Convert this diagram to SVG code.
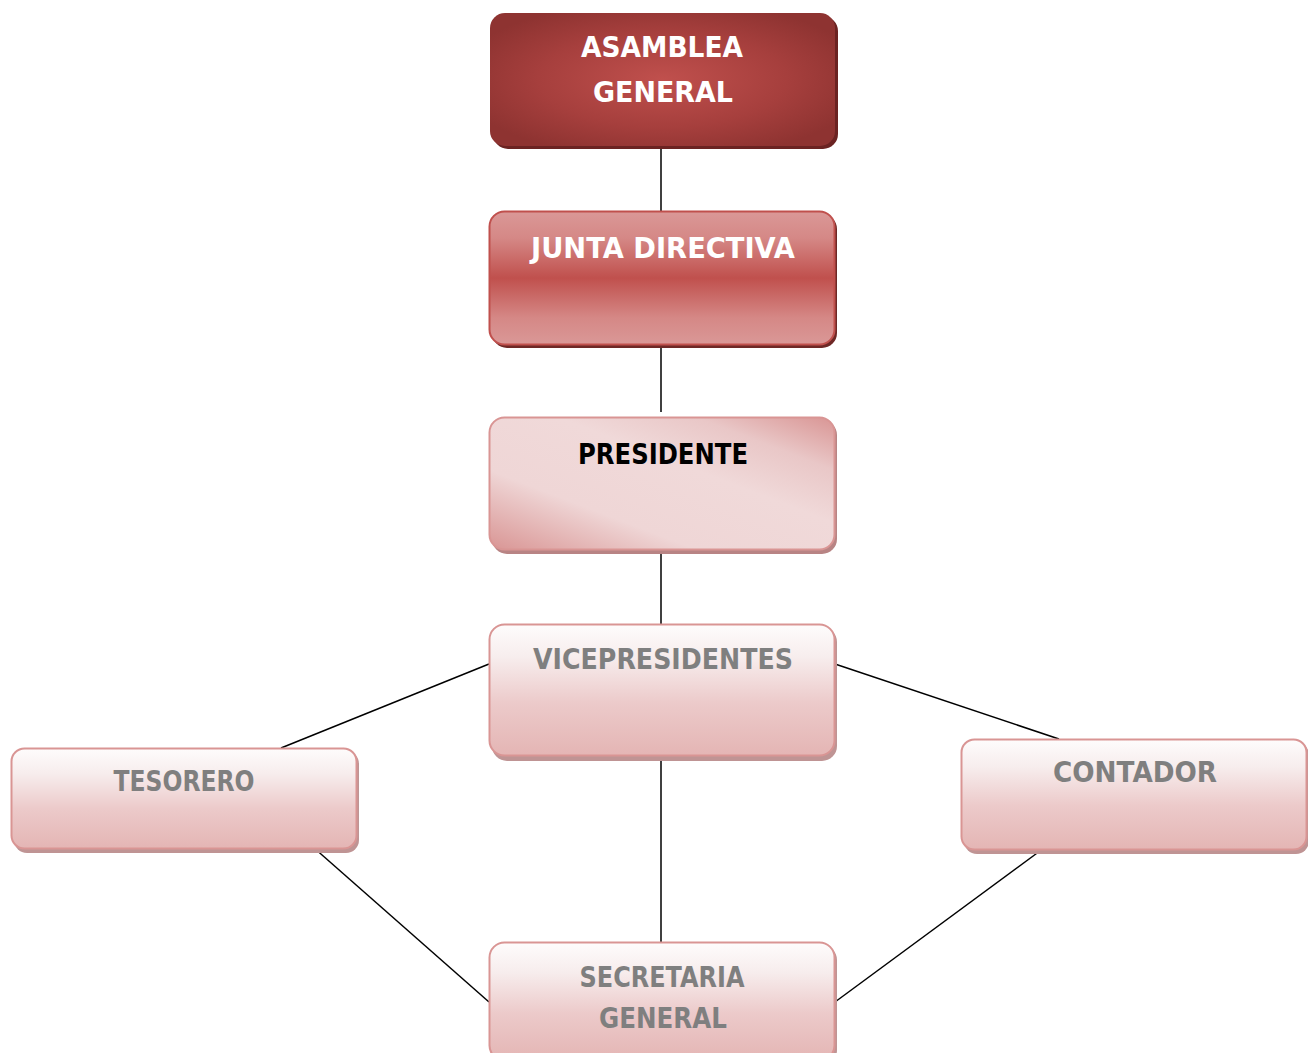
<svg xmlns="http://www.w3.org/2000/svg" width="1308" height="1053" viewBox="0 0 1308 1053">
<defs>
<radialGradient id="gA" cx="0.5" cy="0.5" r="0.6">
<stop offset="0" stop-color="#c0504d"/>
<stop offset="0.6" stop-color="#a63f3d"/>
<stop offset="1" stop-color="#8e3331"/>
</radialGradient>
<linearGradient id="gJ" x1="0" y1="0" x2="0" y2="1">
<stop offset="0" stop-color="#da9897"/>
<stop offset="0.2" stop-color="#d58886"/>
<stop offset="0.5" stop-color="#c0504d"/>
<stop offset="0.8" stop-color="#d58886"/>
<stop offset="1" stop-color="#da9897"/>
</linearGradient>
<linearGradient id="gP" x1="0" y1="1" x2="1" y2="0">
<stop offset="0" stop-color="#d99594"/>
<stop offset="0.3" stop-color="#efd6d6"/>
<stop offset="0.6" stop-color="#f0d9d9"/>
<stop offset="0.8" stop-color="#e9c7c7"/>
<stop offset="1" stop-color="#d99594"/>
</linearGradient>
<linearGradient id="gV" x1="0" y1="0" x2="0" y2="1">
<stop offset="0" stop-color="#fefcfc"/>
<stop offset="0.25" stop-color="#f7eded"/>
<stop offset="0.6" stop-color="#eccaca"/>
<stop offset="1" stop-color="#e4b5b4"/>
</linearGradient>
<style>
.t{font-family:"DejaVu Sans","Liberation Sans",sans-serif;font-weight:bold;font-size:28px;text-anchor:middle}
.w{fill:#ffffff}
.k{fill:#000000}
.g{fill:#7f7f7f}
.sh1{fill:#6b2322}
.sh2{fill:#6e2826}
.sh3{fill:#b88484}
.soft{fill:#bf9494}
.conn line{stroke:#000;stroke-width:1.5}
</style>
</defs>
<g class="conn" id="connectors">
<line x1="661" y1="147" x2="661" y2="212"/>
<line x1="661" y1="345" x2="661" y2="412"/>
<line x1="661" y1="550" x2="661" y2="625"/>
<line x1="661" y1="756" x2="661" y2="948"/>
<line x1="489" y1="664" x2="281" y2="748"/>
<line x1="835" y1="664" x2="1059" y2="739"/>
<line x1="313" y1="847" x2="489" y2="1002"/>
<line x1="1044" y1="848" x2="835" y2="1002"/>
</g>
<g id="asamblea">
<rect x="493" y="16" width="345" height="133" rx="15" class="sh1"/>
<rect x="490" y="13" width="345" height="133" rx="15" fill="url(#gA)"/>
<text class="t w" x="662" y="57" textLength="162" lengthAdjust="spacingAndGlyphs">ASAMBLEA</text>
<text class="t w" x="663" y="102" textLength="140" lengthAdjust="spacingAndGlyphs">GENERAL</text>
</g>
<g id="junta">
<rect x="492" y="214" width="345" height="134" rx="15" class="sh2"/>
<rect x="489.5" y="211.5" width="345" height="133" rx="15" fill="url(#gJ)" stroke="#c0504d" stroke-width="2"/>
<text class="t w" x="663" y="258" textLength="264" lengthAdjust="spacingAndGlyphs">JUNTA DIRECTIVA</text>
</g>
<g id="presidente">
<rect x="492" y="420" width="345" height="134" rx="15" class="sh3"/>
<rect x="489.5" y="417.5" width="345" height="132" rx="15" fill="url(#gP)" stroke="#d99594" stroke-width="2"/>
<text class="t k" x="663" y="464" textLength="170" lengthAdjust="spacingAndGlyphs">PRESIDENTE</text>
</g>
<g id="vicepresidentes">
<rect x="492" y="627" width="345" height="134" rx="15" class="soft"/>
<rect x="489.5" y="624.5" width="345" height="131" rx="15" fill="url(#gV)" stroke="#d99594" stroke-width="2"/>
<text class="t g" x="663" y="669" textLength="260" lengthAdjust="spacingAndGlyphs">VICEPRESIDENTES</text>
</g>
<g id="tesorero">
<rect x="14" y="751" width="345" height="102" rx="13" class="soft"/>
<rect x="11.5" y="748.5" width="345" height="100" rx="13" fill="url(#gV)" stroke="#d99594" stroke-width="2"/>
<text class="t g" x="184" y="791" textLength="141" lengthAdjust="spacingAndGlyphs">TESORERO</text>
</g>
<g id="contador">
<rect x="964" y="742" width="345" height="112" rx="13" class="soft"/>
<rect x="961.5" y="739.5" width="345" height="110" rx="13" fill="url(#gV)" stroke="#d99594" stroke-width="2"/>
<text class="t g" x="1135" y="782" textLength="164" lengthAdjust="spacingAndGlyphs">CONTADOR</text>
</g>
<g id="secretaria">
<rect x="492" y="945" width="345" height="120" rx="15" class="soft"/>
<rect x="489.5" y="942.5" width="345" height="118" rx="15" fill="url(#gV)" stroke="#d99594" stroke-width="2"/>
<text class="t g" x="662" y="987" textLength="165" lengthAdjust="spacingAndGlyphs">SECRETARIA</text>
<text class="t g" x="663" y="1028" textLength="128" lengthAdjust="spacingAndGlyphs">GENERAL</text>
</g>
</svg>
